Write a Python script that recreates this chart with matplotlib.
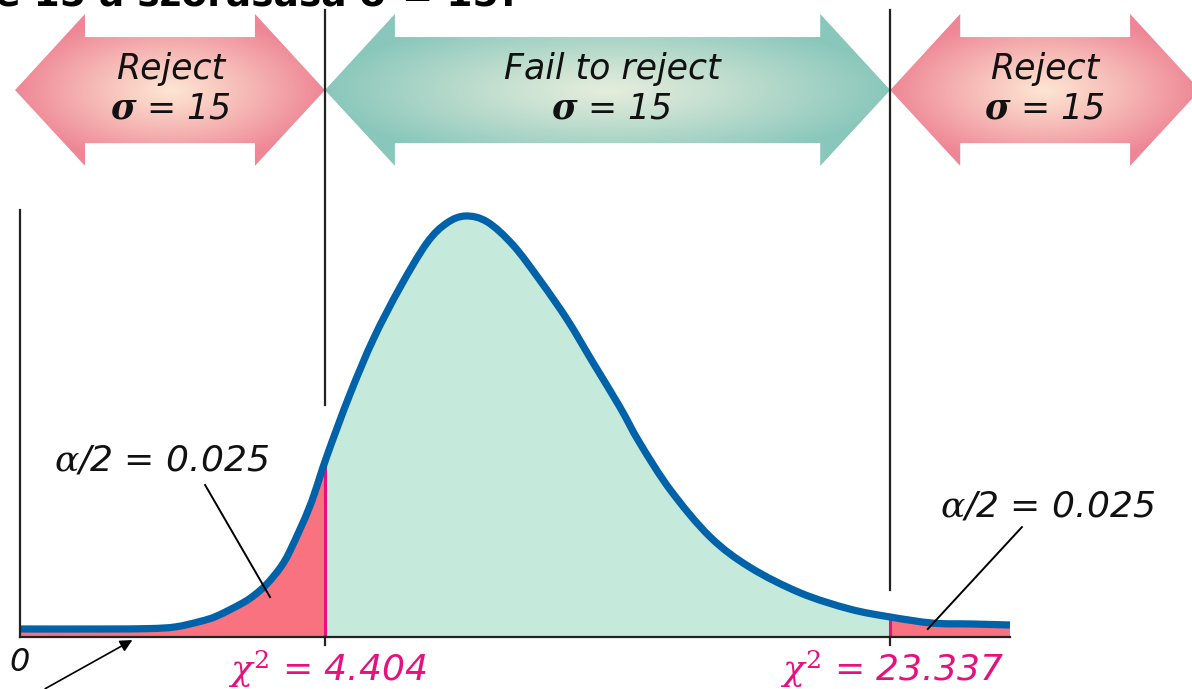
import numpy as np
import matplotlib
matplotlib.use("Agg")
import matplotlib.pyplot as plt
from matplotlib.patches import Polygon, PathPatch, Rectangle
from matplotlib.path import Path

plt.rcParams['mathtext.fontset'] = 'dejavuserif'

# ---- data (schematic units: x 0..100 along the axis, y 0..100 = peak height) ----
curve_x = [0, 8.1, 13.1, 15.7, 18.2, 19.9, 22.5, 23.7, 24.9, 26.3, 27.3, 29.3, 31.0,
           33.3, 35.7, 38.4, 41.1, 43.1, 45.0, 47.2, 49.8, 52.5, 55.3, 57.9, 60.6,
           62.6, 65.7, 69.7, 73.7, 78.8, 83.8, 87.9, 92.2, 96.0, 100]
curve_y = [1.9, 1.9, 2.0, 2.4, 3.7, 5.0, 8.1, 10.0, 12.5, 16.5, 20.6, 31.2, 43.0,
           57.5, 70.8, 83.1, 93.6, 98.3, 100, 98.6, 93.1, 84.8, 75.3, 65.1, 54.6,
           46.1, 34.9, 23.8, 16.6, 10.5, 6.65, 4.75, 3.3, 3.1, 2.85]
crit_pos = [30.8, 87.9]
crit_labels = [r"$\chi^2$ = 4.404", r"$\chi^2$ = 23.337"]
region_labels = ["Reject", "Fail to reject", "Reject"]
sigma_label = r"$\boldsymbol{\sigma}$ = 15"
alpha_label = r"$\alpha$/2 = 0.025"
title_text = "Lehet-e 15 a szórásasa σ = 15?"

BLUE = "#0062a9"
GREEN = "#c5e9da"
PINK = "#f87280"
MAGENTA = "#e8107c"
INK = "#111111"

fig = plt.figure(figsize=(11.92, 6.89), dpi=100)
ax = fig.add_axes([0, 0, 1, 1])
xlim = (-20 / 9.9, 1172 / 9.9)
ylim = (-52 / 4.21, 637 / 4.21)

cx = np.array(curve_x, float)
cy = np.array(curve_y, float)
P = np.column_stack([cx, cy])

# smooth path through the read points (Catmull-Rom drawn as cubic Beziers)
verts = [tuple(P[0])]
codes = [Path.MOVETO]
n = len(P)
for i in range(n - 1):
    p0 = P[i - 1] if i > 0 else P[i]
    p1, p2 = P[i], P[i + 1]
    p3 = P[i + 2] if i + 2 < n else P[i + 1]
    k1 = p1 + (p2 - p0) / 6.0
    k2 = p2 - (p3 - p1) / 6.0
    verts += [tuple(k1), tuple(k2), tuple(p2)]
    codes += [Path.CURVE4] * 3
line_path = Path(verts, codes)
area_path = Path(verts + [(cx[-1], 0), (cx[0], 0), (cx[0], 0)],
                 codes + [Path.LINETO, Path.LINETO, Path.CLOSEPOLY])

area = PathPatch(area_path, facecolor='none', edgecolor='none')
ax.add_patch(area)

c1, c2 = crit_pos
for (a, b), col in zip([(cx[0], c1), (c1, c2), (c2, cx[-1])], [PINK, GREEN, PINK]):
    r = Rectangle((a, 0), b - a, 110, facecolor=col, edgecolor='none', zorder=1)
    ax.add_patch(r)
    r.set_clip_path(area)

for c in crit_pos:
    ln, = ax.plot([c, c], [0, 110], color=MAGENTA, lw=2.2, zorder=2)
    ln.set_clip_path(area)

ax.add_patch(PathPatch(line_path, facecolor='none', edgecolor=BLUE, lw=5.2,
                       capstyle='butt', joinstyle='round', zorder=3))

# axes lines
ax.plot([cx[0], cx[-1]], [0, 0], color="#222222", lw=1.6, zorder=4)
ax.plot([0, 0], [0, 101.4], color="#222222", lw=1.6, zorder=4)
ax.plot([c1, c1], [55.1, 149], color="#222222", lw=1.6, zorder=4)
ax.plot([c2, c2], [11.2, 149], color="#222222", lw=1.6, zorder=4)
for c in crit_pos:
    ax.plot([c, c], [0, -2.0], color="#222222", lw=1.6, zorder=4)

# ---- double-headed gradient arrows ----
edges = [-0.5, c1, c2, 119.2]
head = 7.07
y_mid, y_head_top, y_head_bot = 129.9, 148.0, 111.9
y_shaft_top, y_shaft_bot = 142.5, 117.3
grads = [((253, 229, 210), (238, 134, 149)),
         ((229, 237, 220), (137, 199, 187)),
         ((253, 229, 210), (238, 134, 149))]
text_x = [15.2, 59.8, 103.5]
for i in range(3):
    L, R = edges[i], edges[i + 1]
    pv = [(L, y_mid), (L + head, y_head_top), (L + head, y_shaft_top),
          (R - head, y_shaft_top), (R - head, y_head_top), (R, y_mid),
          (R - head, y_head_bot), (R - head, y_shaft_bot), (L + head, y_shaft_bot),
          (L + head, y_head_bot)]
    poly = Polygon(pv, closed=True, facecolor='none', edgecolor='none')
    ax.add_patch(poly)
    X, Y = np.meshgrid(np.linspace(L, R, 400), np.linspace(y_head_bot, y_head_top, 120))
    xc, yc = (L + R) / 2, y_mid
    rr = np.sqrt(((X - xc) / ((R - L) / 2)) ** 2 +
                 ((Y - yc) / ((y_head_top - y_head_bot) / 2)) ** 2)
    rr = np.clip(rr, 0, 1) ** 1.1
    c_in = np.array(grads[i][0]) / 255
    c_out = np.array(grads[i][1]) / 255
    img = c_in[None, None, :] + (c_out - c_in)[None, None, :] * rr[..., None]
    im = ax.imshow(img, extent=(L, R, y_head_bot, y_head_top), origin='lower',
                   aspect='auto', zorder=0.5, interpolation='bilinear')
    im.set_clip_path(poly)
    ax.text(text_x[i], 135.0, region_labels[i], ha='center', va='center', fontsize=25,
            family='DejaVu Sans', style='italic', color=INK, zorder=5)
    ax.text(text_x[i], 125.5, sigma_label, ha='center', va='center', fontsize=25,
            family='DejaVu Sans', style='italic', color=INK, zorder=5)

# ---- annotations ----
ax.text(14.3, 42.0, alpha_label, ha='center', va='center', fontsize=26,
        family='DejaVu Sans', style='italic', color=INK)
ax.plot([18.7, 25.25], [36.1, 9.5], color='black', lw=1.4, zorder=5)
ax.text(103.8, 31.1, alpha_label, ha='center', va='center', fontsize=26,
        family='DejaVu Sans', style='italic', color=INK)
ax.plot([101.2, 91.7], [26.1, 1.9], color='black', lw=1.4, zorder=5)

ax.text(0, -6.0, "0", ha='center', va='center', fontsize=23,
        family='DejaVu Sans', style='italic', color=INK)
ax.annotate('', xy=(11.6, -0.4), xytext=(2.3, -12.6),
            arrowprops=dict(arrowstyle='-|>', color='black', lw=1.2, mutation_scale=18))

for c, lab in zip(crit_pos, crit_labels):
    ax.text(c + 0.2, -7.6, lab, ha='center', va='center', fontsize=26,
            family='DejaVu Sans', style='italic', color=MAGENTA)

# title, cut off at the top edge as in the source image
fig.text(520 / 1192, 1 - 5 / 689, title_text, ha='right', va='baseline',
         fontsize=27, fontweight='bold', family='DejaVu Sans', color='black')

ax.set_xlim(*xlim)
ax.set_ylim(*ylim)
ax.axis('off')
fig.savefig("out.png", dpi=100)
